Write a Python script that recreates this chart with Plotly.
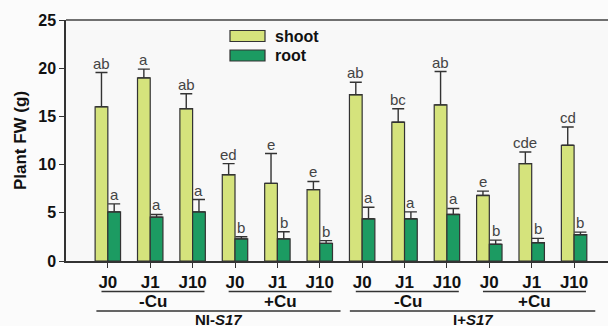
import plotly.graph_objects as go

# ---- data ----
categories = ["J0", "J1", "J10", "J0", "J1", "J10", "J0", "J1", "J10", "J0", "J1", "J10"]
shoot = [16.0, 19.0, 15.8, 8.95, 8.05, 7.4, 17.25, 14.4, 16.2, 6.8, 10.1, 12.0]
shoot_err = [3.55, 0.9, 1.55, 1.15, 3.1, 0.85, 1.3, 1.4, 3.45, 0.45, 1.2, 1.9]
root = [5.1, 4.55, 5.1, 2.3, 2.3, 1.83, 4.38, 4.38, 4.83, 1.73, 1.9, 2.73]
root_err = [0.83, 0.28, 1.28, 0.22, 0.74, 0.28, 1.2, 0.72, 0.62, 0.44, 0.45, 0.27]
shoot_letters = ["ab", "a", "ab", "ed", "e", "e", "ab", "bc", "ab", "e", "cde", "cd"]
root_letters = ["a", "a", "a", "b", "b", "b", "a", "a", "a", "b", "b", "b"]
cu_groups = ["-Cu", "+Cu", "-Cu", "+Cu"]
line_groups = ["NI-<i>S17</i>", "I+<i>S17</i>"]
y_ticks = [0, 5, 10, 15, 20, 25]
series_names = ["shoot", "root"]

SHOOT_C = "#d5e37c"
ROOT_C = "#1c9b62"
EDGE = "#333333"
xs = list(range(len(categories)))

fig = go.Figure()
for name, vals, errs, col in [("shoot", shoot, shoot_err, SHOOT_C), ("root", root, root_err, ROOT_C)]:
    fig.add_trace(go.Bar(
        x=xs, y=vals, name=name,
        marker=dict(color=col, line=dict(color=EDGE, width=1.2)),
        error_y=dict(type="data", symmetric=False, array=errs, arrayminus=[0] * len(errs),
                     color=EDGE, thickness=1.4, width=6),
        showlegend=False,
    ))

annotations = []
LETTER_FONT = dict(family="Arial, Liberation Sans", size=15, color="#444")
for i in xs:
    annotations.append(dict(x=i - 0.15, y=shoot[i] + shoot_err[i], text=shoot_letters[i],
                            xref="x", yref="y", showarrow=False, yanchor="bottom", yshift=-1,
                            font=LETTER_FONT))
    annotations.append(dict(x=i + 0.15, y=root[i] + root_err[i], text=root_letters[i],
                            xref="x", yref="y", showarrow=False, yanchor="bottom", yshift=-1,
                            font=LETTER_FONT))

shapes = []
for g, lab in enumerate(cu_groups):
    x0 = g * 3 - 0.15
    x1 = g * 3 + 2.28
    shapes.append(dict(type="line", xref="x", yref="paper", x0=x0, x1=x1, y0=-0.127, y1=-0.127,
                       line=dict(color="#333", width=1.5)))
    annotations.append(dict(x=g * 3 + 1.07, y=-0.168, xref="x", yref="paper", text="<b>%s</b>" % lab,
                            showarrow=False, yanchor="middle",
                            font=dict(family="Arial, Liberation Sans", size=17, color="#111")))
group_spans = [(-0.27, 5.49), (5.71, 11.5)]
for lab, (x0, x1) in zip(line_groups, group_spans):
    shapes.append(dict(type="line", xref="x", yref="paper", x0=x0, x1=x1, y0=-0.207, y1=-0.207,
                       line=dict(color="#333", width=1.5)))
    annotations.append(dict(x=(x0 + x1) / 2, y=-0.203, xref="x", yref="paper", text="<b>%s</b>" % lab,
                            showarrow=False, yanchor="top", borderpad=0,
                            font=dict(family="Arial, Liberation Sans", size=15, color="#111")))

# top frame line
shapes.append(dict(type="line", xref="paper", yref="paper", x0=0, x1=1, y0=1, y1=1,
                   line=dict(color="#707070", width=2)))

# legend (manual)
for k, (nm, col) in enumerate(zip(series_names, [SHOOT_C, ROOT_C])):
    yc = 36 + k * 19.5
    shapes.append(dict(type="rect", xref="paper", yref="paper",
                       x0=(230 - 66) / 542, x1=(265 - 66) / 542,
                       y0=(261 - (yc - 5.5)) / 241, y1=(261 - (yc + 5.5)) / 241,
                       fillcolor=col, line=dict(color=EDGE, width=1.2)))
    annotations.append(dict(x=(273 - 66) / 542, y=(261 - yc) / 241, xref="paper", yref="paper",
                            text="<b>%s</b>" % nm, showarrow=False, xanchor="left", yanchor="middle",
                            font=dict(family="Arial, Liberation Sans", size=16, color="#111")))

fig.update_layout(
    width=608, height=326,
    margin=dict(l=66, r=0, t=20, b=65),
    paper_bgcolor="#fbfbfb", plot_bgcolor="#f8f8f8",
    barmode="group", bargap=0.4, bargroupgap=0,
    annotations=annotations, shapes=shapes,
    font=dict(family="Arial, Liberation Sans", color="#111"),
    xaxis=dict(range=[-0.987, 11.8], tickmode="array", tickvals=xs,
               ticktext=["<b>%s</b>" % c for c in categories],
               tickfont=dict(size=17, color="#111"), ticks="outside", ticklen=5, tickwidth=1.2,
               tickcolor="#333", showline=True, linecolor="#333", linewidth=1.5,
               showgrid=False, zeroline=False),
    yaxis=dict(range=[0, 25], tickvals=y_ticks, ticktext=["<b>%d</b>" % v for v in y_ticks],
               tickfont=dict(size=16, color="#111"), ticks="outside", ticklen=5, tickwidth=1.2,
               tickcolor="#333", showline=True, linecolor="#333", linewidth=1.5,
               showgrid=False, zeroline=False,
               title=dict(text="<b>Plant FW (g)</b>", font=dict(size=17, color="#111"), standoff=7)),
)

fig.write_html("out.html")
